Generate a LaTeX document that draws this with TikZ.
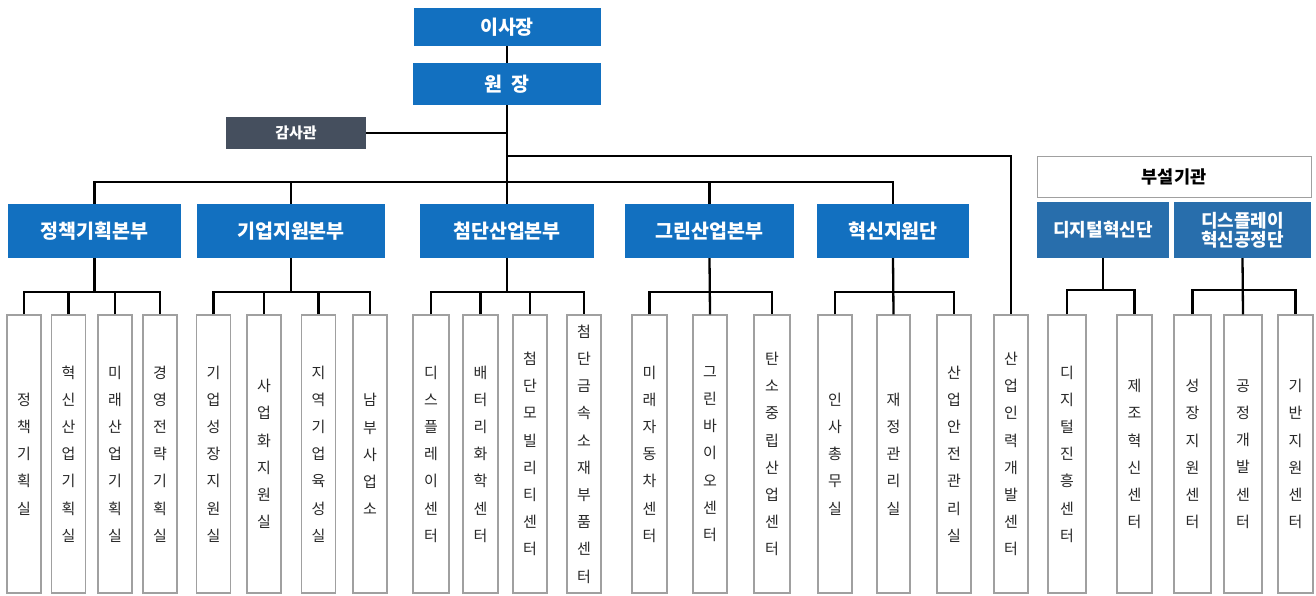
\documentclass[tikz,border=0pt]{standalone}
\usepackage{fontspec}
\setmainfont{Noto Sans CJK KR}
\newfontfamily\kr{Noto Sans CJK KR}
\definecolor{mainblue}{RGB}{18,112,192}
\definecolor{subblue}{RGB}{40,110,172}
\definecolor{audit}{RGB}{69,79,94}
\definecolor{boxgray}{RGB}{160,160,160}
\definecolor{txtgray}{RGB}{40,40,40}
\tikzset{
  bluebox/.style={fill=mainblue, draw=none, text=white, font=\kr\bfseries\fontsize{19.5}{22}\selectfont, inner sep=0pt, align=center},
  subbox/.style={fill=subblue, draw=none, text=white, font=\kr\bfseries\fontsize{18}{21}\selectfont, inner sep=0pt, align=center},
  auditbox/.style={fill=audit, draw=none, text=white, font=\kr\bfseries\fontsize{15}{17}\selectfont, inner sep=0pt, minimum width=140pt, minimum height=32pt},
  annexbox/.style={fill=white, draw=boxgray, line width=1pt, text=black, font=\kr\bfseries\fontsize{17.5}{20}\selectfont, inner sep=0pt, minimum width=274pt, minimum height=41pt},
  unitbox/.style={fill=white, draw=boxgray, line width=1.2pt, text=txtgray, font=\kr\fontsize{15}{27.2}\selectfont, inner sep=0pt, align=center, minimum width=34pt, minimum height=278pt},
  conn/.style={draw=black, line width=2.3pt},
}
\begin{document}
\begin{tikzpicture}[x=1pt,y=-1pt]
\useasboundingbox[fill=white] (0,0) rectangle (1316,595);

% top
\node[bluebox, minimum width=187pt, minimum height=38pt] (chair) at (507,27) {이사장};
\node[bluebox, minimum width=188pt, minimum height=42pt] (pres) at (507,84) {원\hspace{9pt}장};
\node[auditbox] (audit) at (296,133) {감사관};

% headquarters
\node[bluebox, minimum width=173pt, minimum height=54pt] (hq1) at (94.5,231) {정책기획본부};
\node[bluebox, minimum width=188pt, minimum height=54pt] (hq2) at (291,231) {기업지원본부};
\node[bluebox, minimum width=174pt, minimum height=54pt] (hq3) at (507,231) {첨단산업본부};
\node[bluebox, minimum width=169pt, minimum height=54pt] (hq4) at (709.5,231) {그린산업본부};
\node[bluebox, minimum width=152pt, minimum height=54pt] (hq5) at (893,231) {혁신지원단};

% annex
\node[annexbox] (annex) at (1174,176.5) {부설기관};
\node[subbox, minimum width=132pt, minimum height=56pt] (an1) at (1103,230) {디지털혁신단};
\node[subbox, minimum width=137pt, minimum height=56pt] (an2) at (1242.5,230) {디스플레이\\[-2pt]혁신공정단};

% units
\node[unitbox] (p1) at (24,454) {정\\책\\기\\획\\실};
\node[unitbox] (p2) at (68.5,454) {혁\\신\\산\\업\\기\\획\\실};
\node[unitbox] (p3) at (115,454) {미\\래\\산\\업\\기\\획\\실};
\node[unitbox] (p4) at (160,454) {경\\영\\전\\략\\기\\획\\실};

\node[unitbox] (e1) at (213.5,454) {기\\업\\성\\장\\지\\원\\실};
\node[unitbox] (e2) at (264,454) {사\\업\\화\\지\\원\\실};
\node[unitbox] (e3) at (318.5,454) {지\\역\\기\\업\\육\\성\\실};
\node[unitbox] (e4) at (370,454) {남\\부\\사\\업\\소};

\node[unitbox, minimum width=36pt] (a1) at (431,454) {디\\스\\플\\레\\이\\센\\터};
\node[unitbox, minimum width=35pt] (a2) at (480.5,454) {배\\터\\리\\화\\학\\센\\터};
\node[unitbox] (a3) at (530,454) {첨\\단\\모\\빌\\리\\티\\센\\터};
\node[unitbox] (a4) at (584,454) {첨\\단\\금\\속\\소\\재\\부\\품\\센\\터};

\node[unitbox, minimum width=35pt] (g1) at (649.5,454) {미\\래\\자\\동\\차\\센\\터};
\node[unitbox] (g2) at (710,454) {그\\린\\바\\이\\오\\센\\터};
\node[unitbox, minimum width=36pt] (g3) at (772,454) {탄\\소\\중\\립\\산\\업\\센\\터};

\node[unitbox] (i1) at (835,454) {인\\사\\총\\무\\실};
\node[unitbox, minimum width=33pt] (i2) at (893.5,454) {재\\정\\관\\리\\실};
\node[unitbox] (i3) at (954,454) {산\\업\\안\\전\\관\\리\\실};

\node[unitbox] (hrd) at (1011,454) {산\\업\\인\\력\\개\\발\\센\\터};

\node[unitbox, minimum width=38pt] (d1) at (1067,454) {디\\지\\털\\진\\흥\\센\\터};
\node[unitbox, minimum width=35pt] (d2) at (1134.5,454) {제\\조\\혁\\신\\센\\터};

\node[unitbox, minimum width=37pt] (s1) at (1192.5,454) {성\\장\\지\\원\\센\\터};
\node[unitbox, minimum width=38pt] (s2) at (1243,454) {공\\정\\개\\발\\센\\터};
\node[unitbox, minimum width=35pt] (s3) at (1295.5,454) {기\\반\\지\\원\\센\\터};

% helper coordinates
\coordinate (jaudit) at (507,133);
\coordinate (jhrd) at (507,156);
\coordinate (bus) at (507,182);
\coordinate (lvl) at (0,292);
\coordinate (lvlb) at (0,290);

% top connectors
\draw[conn] (chair.south) -- (pres.north);
\draw[conn] (pres.south) -- (hq3.north);
\draw[conn] (audit.east) -- (jaudit);
\draw[conn] (jhrd) -| (hrd.north);
\draw[conn] (hq1.north) |- (bus) -| (hq5.north);
\draw[conn] (bus) -| (hq2.north);
\draw[conn] (bus) -| (hq4.north);

% group 1
\draw[conn] (hq1.south) -- (hq1.south |- lvl);
\draw[conn] (p1.north) |- (lvl -| p4.north) -- (p4.north);
\draw[conn] (p2.north) -- (p2.north |- lvl);
\draw[conn] (p3.north) -- (p3.north |- lvl);
% group 2
\draw[conn] (hq2.south) -- (hq2.south |- lvl);
\draw[conn] (e1.north) |- (lvl -| e4.north) -- (e4.north);
\draw[conn] (e2.north) -- (e2.north |- lvl);
\draw[conn] (e3.north) -- (e3.north |- lvl);
% group 3
\draw[conn] (hq3.south) -- (hq3.south |- lvl);
\draw[conn] (a1.north) |- (lvl -| a4.north) -- (a4.north);
\draw[conn] (a2.north) -- (a2.north |- lvl);
\draw[conn] (a3.north) -- (a3.north |- lvl);
% group 4
\draw[conn] (hq4.south) -- (g2.north);
\draw[conn] (g1.north) |- (lvl -| g3.north) -- (g3.north);
% group 5
\draw[conn] (hq5.south) -- (i2.north);
\draw[conn] (i1.north) |- (lvl -| i3.north) -- (i3.north);
% annex 1
\draw[conn] (an1.south) -- (an1.south |- lvlb);
\draw[conn] (d1.north) |- (lvlb -| d2.north) -- (d2.north);
% annex 2
\draw[conn] (an2.south) -- (s2.north);
\draw[conn] (s1.north) |- (lvlb -| s3.north) -- (s3.north);
\end{tikzpicture}
\end{document}
